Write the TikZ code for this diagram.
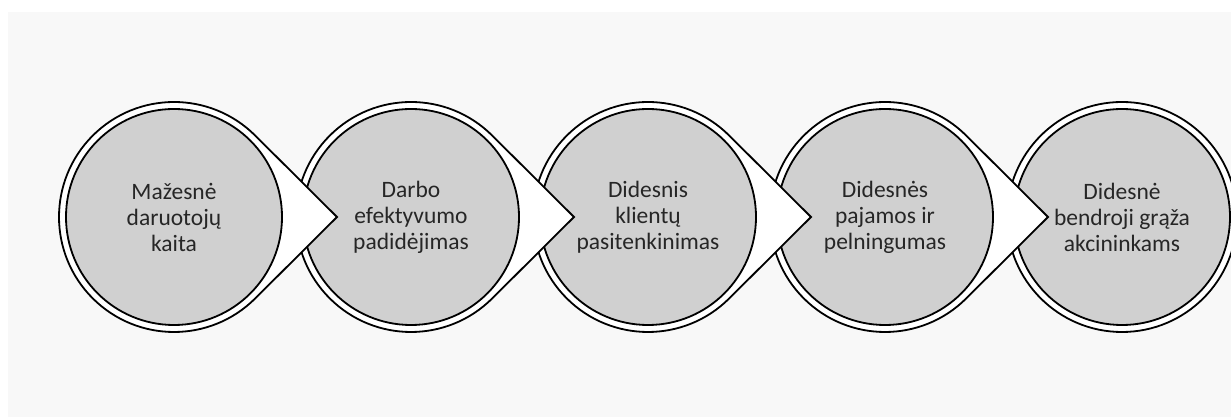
\documentclass[tikz,border=0pt]{standalone}
\usepackage{fontspec}
\setmainfont{Carlito}
\usepackage{tikz}

\definecolor{fond}{HTML}{F8F8F8}
\definecolor{disque}{HTML}{D0D0D0}

\begin{document}
\begin{tikzpicture}[x=1pt,y=1pt,
  anneau/.style={fill=white,draw=black,line width=1.8pt,line join=miter},
  disc/.style={fill=disque,draw=black,line width=1.8pt},
  etiq/.style={align=center,font=\fontsize{23.5}{26}\selectfont,text=black!85}]

\useasboundingbox (0,0) rectangle (1231,417);
\fill[white] (0,0) rectangle (1231,417);
\fill[fond] (8,0) rectangle (1231,405);

% cinquieme cercle
\draw[anneau] (1122,200) circle (115);
\draw[disc] (1122,200) circle (108);
\node[etiq] (E) at (1122,200) {Didesn\.e\\bendroji gr\k{a}\v{z}a\\akcininkams};

% quatrieme
\draw[anneau] (1048,200) -- ([shift={(885,200)}]45.1:115) arc[start angle=45.1, end angle=314.9, radius=115] -- cycle;
\draw[disc] (885,200) circle (108);
\node[etiq] (D) at (885,200) {Didesn\.es\\pajamos ir\\pelningumas};

% troisieme
\draw[anneau] (811,200) -- ([shift={(648,200)}]45.1:115) arc[start angle=45.1, end angle=314.9, radius=115] -- cycle;
\draw[disc] (648,200) circle (108);
\node[etiq] (C) at (648,200) {Didesnis\\klient\k{u}\\pasitenkinimas};

% deuxieme
\draw[anneau] (574,200) -- ([shift={(411,200)}]45.1:115) arc[start angle=45.1, end angle=314.9, radius=115] -- cycle;
\draw[disc] (411,200) circle (108);
\node[etiq] (B) at (411,200) {Darbo\\efektyvumo\\padid\.ejimas};

% premier
\draw[anneau] (337,200) -- ([shift={(174,200)}]45.1:115) arc[start angle=45.1, end angle=314.9, radius=115] -- cycle;
\draw[disc] (174,200) circle (108);
\node[etiq] (A) at (174,200) {Ma\v{z}esn\.e\\daruotoj\k{u}\\kaita};

\end{tikzpicture}
\end{document}
